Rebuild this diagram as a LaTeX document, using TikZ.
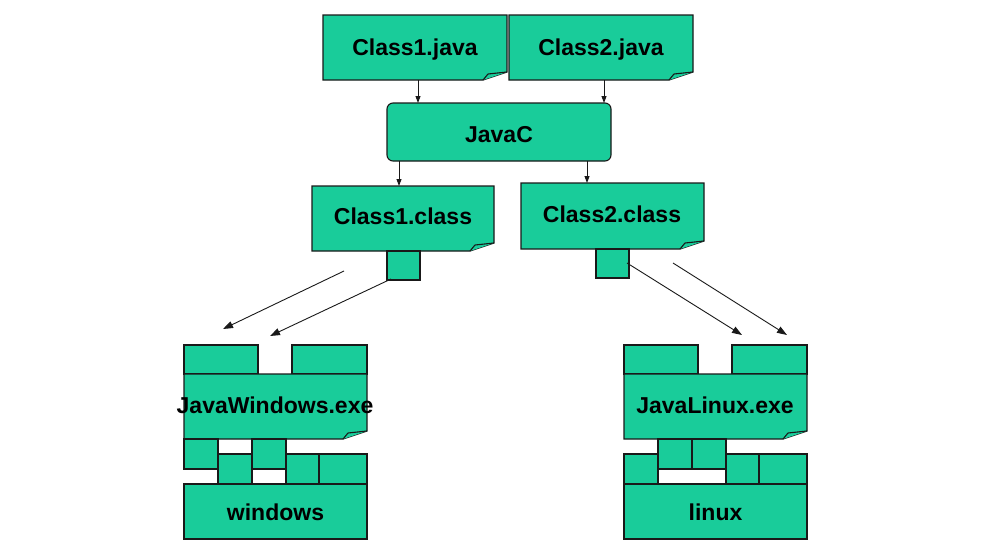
\documentclass[tikz,border=0pt]{standalone}
\usepackage{fontspec}
\setmainfont{Liberation Sans}
\usetikzlibrary{arrows.meta,calc}
\definecolor{jgreen}{RGB}{25,204,154}
\definecolor{jline}{RGB}{25,25,25}
\tikzset{
  shapeline/.style={draw=jline,line width=1.1pt,fill=jgreen},
  anchorbox/.style={draw=none,inner sep=0pt,outer sep=0pt},
  label/.style={anchor=base,inner sep=0pt,font=\bfseries\fontsize{23}{27}\selectfont},
  arr/.style={draw=jline,line width=0.9pt,-{Triangle[length=7pt,width=5pt]}},
  darr/.style={draw=jline,line width=0.9pt,-{Triangle[length=10pt,width=7pt]}},
}
% #1 name, #2 x1, #3 y1, #4 x2, #5 y2
\newcommand\jfoldbox[5]{%
  \draw[shapeline] (#2,#3) -- (#4,#3) -- (#4,#5-8) -- (#4-24,#5) -- (#2,#5) -- cycle;
  \draw[shapeline,line join=round] (#4-24,#5) -- (#4-19,#5-6) -- (#4,#5-8);
  \node[anchorbox,minimum width={#4-#2},minimum height={#5-#3}] (#1) at ({(#2+#4)/2},{(#3+#5)/2}) {};
}
\newcommand\jrectbox[5]{%
  \draw[shapeline] (#2,#3) rectangle (#4,#5);
  \node[anchorbox,minimum width={#4-#2},minimum height={#5-#3}] (#1) at ({(#2+#4)/2},{(#3+#5)/2}) {};
}
\begin{document}
\begin{tikzpicture}[x=1pt,y=-1pt]
\useasboundingbox (0,0) rectangle (990,544);

% top source files
\jfoldbox{cjava}{323}{15}{507}{80}
\node[label] (cjavat) at (415,55) {Class1.java};
\jfoldbox{djava}{509}{15}{693}{80}
\node[label] (djavat) at (601,55) {Class2.java};

% compiler
\draw[shapeline,rounded corners=6pt] (387,103) rectangle (611,161);
\node[anchorbox,minimum width=224,minimum height=58] (javac) at (499,132) {};
\node[label] (javact) at (499,142) {JavaC};

% class files
\jfoldbox{cclass}{312}{186}{494}{251}
\node[label] (cclasst) at (403,224) {Class1.class};
\jfoldbox{dclass}{521}{183}{704}{249}
\node[label] (dclasst) at (612,222) {Class2.class};
\jrectbox{sqa}{387}{251}{420}{280}
\jrectbox{sqb}{596}{249}{629}{278}

% windows stack
\jrectbox{wta}{184}{345}{258}{374}
\jrectbox{wtb}{292}{345}{367}{374}
\jfoldbox{wexe}{184}{374}{367}{439}
\node[label] (wexet) at (275,413) {JavaWindows.exe};
\jrectbox{wba}{184}{439}{218}{469}
\jrectbox{wbb}{252}{439}{286}{469}
\jrectbox{wbc}{218}{454}{252}{484}
\jrectbox{wbd}{286}{454}{319}{484}
\jrectbox{wbe}{319}{454}{367}{484}
\jrectbox{wos}{184}{484}{367}{539}
\node[label] (wost) at (275.5,520) {windows};

% linux stack
\jrectbox{lta}{624}{345}{698}{374}
\jrectbox{ltb}{732}{345}{807}{374}
\jfoldbox{lexe}{624}{374}{807}{439}
\node[label] (lexet) at (715,413) {JavaLinux.exe};
\jrectbox{lba}{658}{439}{692}{469}
\jrectbox{lbb}{692}{439}{726}{469}
\jrectbox{lbc}{624}{454}{658}{484}
\jrectbox{lbd}{726}{454}{759}{484}
\jrectbox{lbe}{759}{454}{807}{484}
\jrectbox{los}{624}{484}{807}{539}
\node[label] (lost) at (715.5,520) {linux};

% vertical connectors
\coordinate (xa) at (418,0);
\coordinate (xb) at (604,0);
\coordinate (xc) at (399,0);
\coordinate (xd) at (587,0);
\draw[arr] (cjava.south -| xa) -- (javac.north -| xa);
\draw[arr] (djava.south -| xb) -- (javac.north -| xb);
\draw[arr] (javac.south -| xc) -- (cclass.north -| xc);
\draw[arr] (javac.south -| xd) -- (dclass.north -| xd);

% diagonal connectors
\coordinate (s1) at (344,271);
\coordinate (e1) at (223,329);
\coordinate (s2) at (391,279);
\coordinate (e2) at (270,336);
\coordinate (s3) at (627,263);
\coordinate (e3) at (742,335);
\coordinate (s4) at (673,263);
\coordinate (e4) at (787,335);
\draw[darr] (s1) -- (e1);
\draw[darr] (s2) -- (e2);
\draw[darr] (s3) -- (e3);
\draw[darr] (s4) -- (e4);
\end{tikzpicture}
\end{document}
